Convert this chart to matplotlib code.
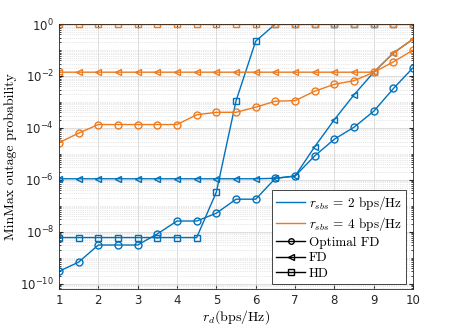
import numpy as np
import matplotlib
matplotlib.use("Agg")
import matplotlib.pyplot as plt
from matplotlib.lines import Line2D
from matplotlib.ticker import LogLocator, FixedLocator, NullFormatter

plt.rcParams['mathtext.fontset'] = 'cm'

# data
rd = [1, 1.5, 2, 2.5, 3, 3.5, 4, 4.5, 5, 5.5, 6, 6.5, 7, 7.5, 8, 8.5, 9, 9.5, 10]

# r_sbs = 2 bps/Hz
opt_fd_2 = [3e-10, 6.8e-10, 3.1e-9, 3.1e-9, 3.1e-9, 8.3e-9, 2.6e-8, 2.6e-8, 5.2e-8, 1.8e-7,
            1.8e-7, 1.15e-6, 1.4e-6, 8.4e-6, 3.7e-5, 1.07e-4, 4.4e-4, 3.3e-3, 2.1e-2]
fd_2 = [1.1e-6, 1.1e-6, 1.1e-6, 1.1e-6, 1.1e-6, 1.1e-6, 1.1e-6, 1.1e-6, 1.1e-6, 1.1e-6,
        1.1e-6, 1.15e-6, 1.4e-6, 1.9e-5, 2.1e-4, 1.9e-3, 1.4e-2, 7.7e-2, 2.65e-1]
hd_2 = [6e-9, 6e-9, 6e-9, 6e-9, 6e-9, 6e-9, 6e-9, 6e-9, 3.4e-7, 1.1e-3,
        2.2e-1, 1, 1, 1, 1, 1, 1, 1, 1]

# r_sbs = 4 bps/Hz
opt_fd_4 = [2.7e-5, 6.3e-5, 1.35e-4, 1.35e-4, 1.35e-4, 1.35e-4, 1.35e-4, 3.2e-4, 4e-4, 4e-4,
            6.3e-4, 1.07e-3, 1.12e-3, 2.6e-3, 4.8e-3, 6.6e-3, 1.39e-2, 3.5e-2, 1e-1]
fd_4 = [1.4e-2] * 17 + [7.7e-2, 2.65e-1]
hd_4 = [1] * 19

blue = '#0072BD'
orange = '#EE7A1E'

fig = plt.figure(figsize=(4.57, 3.25), dpi=100)
ax = fig.add_axes([0.129, 0.111, 0.775, 0.815])

kw = dict(lw=1.0, ms=5, mfc='none', mew=1.0)
ax.plot(rd, opt_fd_2, marker='o', color=blue, **kw)
ax.plot(rd, fd_2, marker='<', color=blue, **kw)
ax.plot(rd, hd_2, marker='s', color=blue, **kw)
ax.plot(rd, opt_fd_4, marker='o', color=orange, **kw)
ax.plot(rd, fd_4, marker='<', color=orange, **kw)
ax.plot(rd, hd_4, marker='s', color=orange, **kw)

ax.set_yscale('log')
ax.set_xlim(1, 10)
ax.set_ylim(10**-10.2, 1)
ax.xaxis.set_major_locator(FixedLocator(range(1, 11)))
ax.yaxis.set_major_locator(FixedLocator([10.0**e for e in range(-10, 1, 2)]))
ax.yaxis.set_minor_locator(LogLocator(base=10, subs=np.arange(1, 10), numticks=50))
ax.yaxis.set_minor_formatter(NullFormatter())

ax.grid(True, which='major', color='#d8d8d8', lw=0.6)
ax.grid(True, which='minor', axis='y', color='#d0d0d0', lw=0.5, ls=':')
ax.set_axisbelow(True)
ax.tick_params(which='both', direction='in', top=True, right=True, labelsize=8.5, colors='#262626')
ax.tick_params(which='major', length=3)
ax.tick_params(which='minor', length=1.5)
for s in ax.spines.values():
    s.set_color('#262626')
    s.set_linewidth(0.6)

ax.set_xlabel(r'$r_d$(bps/Hz)', fontsize=10, family='serif', labelpad=1)
ax.set_ylabel('MinMax outage probability', fontsize=10, family='serif', labelpad=2)
ax.xaxis.label.set_fontfamily('cmr10')
ax.yaxis.label.set_fontfamily('cmr10')

handles = [
    Line2D([], [], color=blue, lw=1.0),
    Line2D([], [], color=orange, lw=1.0),
    Line2D([], [], color='k', lw=1.0, marker='o', ms=4, mfc='none'),
    Line2D([], [], color='k', lw=1.0, marker='<', ms=4, mfc='none'),
    Line2D([], [], color='k', lw=1.0, marker='s', ms=4, mfc='none'),
]
labels = [r'$r_{sbs}$ = 2 bps/Hz', r'$r_{sbs}$ = 4 bps/Hz', 'Optimal FD', 'FD', 'HD']
leg = ax.legend(handles, labels, loc='lower right', bbox_to_anchor=(0.98, 0.02),
                prop={'family': 'cmr10', 'size': 9.5}, fancybox=False, framealpha=1,
                edgecolor='#262626', borderpad=0.3, labelspacing=0.25,
                handlelength=2.2, handletextpad=0.3, borderaxespad=0)
leg.get_frame().set_linewidth(0.6)

fig.savefig('out.png', dpi=100)
